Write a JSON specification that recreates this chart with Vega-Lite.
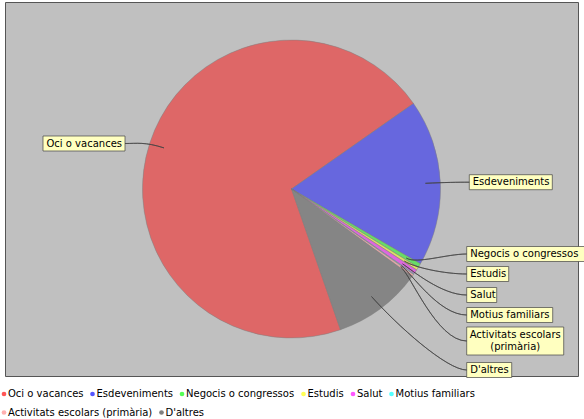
{
  "$schema": "https://vega.github.io/schema/vega-lite/v6.json",
  "width": 573,
  "height": 374,
  "autosize": {"type": "none"},
  "padding": {"left": 5, "top": 2, "right": 6, "bottom": 43},
  "background": "white",
  "config": {
    "view": {"fill": "#C0C0C0", "stroke": "#555555", "strokeWidth": 1},
    "legend": {
      "orient": "none", "direction": "horizontal", "title": null, "padding": 0,
      "symbolType": "circle", "symbolSize": 22, "symbolStrokeWidth": 0, "symbolOpacity": 1,
      "labelFont": "DejaVu Sans", "labelFontSize": 10, "labelColor": "#000000",
      "labelOffset": -1, "columnPadding": 3.5, "labelLimit": 400
    }
  },
  "data": {"values": [
    {"id": 1, "category": "Oci o vacances", "share": 70.6, "label": "Oci o vacances"},
    {"id": 2, "category": "Esdeveniments", "share": 18.1, "label": "Esdeveniments"},
    {"id": 3, "category": "Negocis o congressos", "share": 0.45, "label": "Negocis o congressos"},
    {"id": 4, "category": "Estudis", "share": 0.32, "label": "Estudis"},
    {"id": 5, "category": "Salut", "share": 0.5, "label": "Salut"},
    {"id": 6, "category": "Motius familiars", "share": 0.08, "label": "Motius familiars"},
    {"id": 7, "category": "Activitats escolars (primària)", "share": 0.28, "label": "Activitats escolars\n(primària)"},
    {"id": 8, "category": "D'altres", "share": 9.67, "label": "D'altres"}
  ]},
  "layer": [
    {
      "mark": {"type": "arc", "radius": 149, "fill": "#929292"},
      "encoding": {
        "theta": {"field": "share", "type": "quantitative", "stack": true, "scale": {"range": [2.8065, 9.0897]}},
        "order": {"field": "id", "type": "quantitative"}
      }
    },
    {
      "mark": {"type": "arc", "radius": 149, "opacity": 0.7, "stroke": "#7a7a7a", "strokeWidth": 0.5},
      "encoding": {
        "theta": {"field": "share", "type": "quantitative", "stack": true},
        "order": {"field": "id", "type": "quantitative"},
        "color": {
          "field": "category", "type": "nominal",
          "scale": {
            "domain": ["Oci o vacances", "Esdeveniments", "Negocis o congressos", "Estudis", "Salut", "Motius familiars", "Activitats escolars (primària)", "D'altres"],
            "range": ["#FF5555", "#5555FF", "#55FF55", "#FFFF55", "#FF55FF", "#55FFFF", "#FFAFAF", "#808080"]
          },
          "legend": {
            "legendX": -6, "legendY": 387,
            "values": ["Oci o vacances", "Esdeveniments", "Negocis o congressos", "Estudis", "Salut", "Motius familiars"]
          }
        }
      }
    },
    {
      "mark": {"type": "arc", "radius": 149, "opacity": 0},
      "encoding": {
        "theta": {"field": "share", "type": "quantitative", "stack": true},
        "order": {"field": "id", "type": "quantitative"},
        "fill": {
          "field": "label", "type": "nominal",
          "scale": {
            "domain": ["Oci o vacances", "Esdeveniments", "Negocis o congressos", "Estudis", "Salut", "Motius familiars", "Activitats escolars\n(primària)", "D'altres"],
            "range": ["#FF5555", "#5555FF", "#55FF55", "#FFFF55", "#FF55FF", "#55FFFF", "#FFAFAF", "#808080"]
          },
          "legend": {
            "legendX": -6, "legendY": 405.5,
            "values": ["Activitats escolars\n(primària)", "D'altres"],
            "labelExpr": "replace(datum.label, '\\n', ' ')"
          }
        }
      }
    },
    {
      "mark": {"type": "point", "filled": true, "fill": "#FFFFC0", "stroke": "#444444", "strokeWidth": 0.7, "opacity": 1, "size": 4},
      "encoding": {
        "x": {"field": "share", "type": "quantitative", "axis": null,
              "scale": {"domain": [0.08, 0.28, 0.32, 0.45, 0.5, 9.67, 18.1, 70.6], "range": [461.7, 461.7, 461.7, 461.7, 461.7, 461.7, 464.3, 120], "nice": false, "zero": false}},
        "y": {"field": "share", "type": "quantitative", "axis": null,
              "scale": {"domain": [0.08, 0.28, 0.32, 0.45, 0.5, 9.67, 18.1, 70.6], "range": [313, 339, 272, 252, 293, 368, 180.2, 141.5], "nice": false, "zero": false}},
        "shape": {"field": "id", "type": "nominal", "legend": null,
          "scale": {
            "domain": [1, 2, 3, 4, 5, 6, 7, 8],
            "range": [
              "M-82,-7.5H0V7.5H-82ZM0,0C12,0 20,-1.7 39,4.4C20,-1.7 12,0 0,0Z",
              "M0,-7.5H83V7.5H0ZM0,0C-12,0 -24,0.2 -43.9,1.1C-24,0.2 -12,0 0,0Z",
              "M0,-7.5H118V7.5H0ZM0,0C-20,0 -50,10.3 -60.4,4.1C-50,10.3 -20,0 0,0Z",
              "M0,-7.5H42V7.5H0ZM0,0C-22,0 -52.2,-6.4 -62.3,-12.9C-52.2,-6.4 -22,0 0,0Z",
              "M0,-7.5H30V7.5H0ZM0,0C-25,0 -54.1,-24.4 -64.1,-31.1C-54.1,-24.4 -25,0 0,0Z",
              "M0,-7.5H86V7.5H0ZM0,0C-28,0 -55.6,-42.3 -65.4,-49.2C-55.6,-42.3 -28,0 0,0Z",
              "M0,-14H97V14H0ZM0,0C-30,0 -56.3,-67.1 -66.1,-74.1C-56.3,-67.1 -30,0 0,0Z",
              "M0,-7.5H45V7.5H0ZM0,0C-20,0 -70,-45 -95.2,-73.5C-70,-45 -20,0 0,0Z"
            ]
          }
        }
      }
    },
    {
      "transform": [{"filter": "datum.share < 50 && datum.id != 7"}],
      "mark": {"type": "text", "align": "left", "baseline": "middle", "dx": 3.5, "font": "DejaVu Sans", "fontSize": 10, "color": "#000000"},
      "encoding": {
        "x": {"field": "share", "type": "quantitative", "axis": null},
        "y": {"field": "share", "type": "quantitative", "axis": null},
        "text": {"field": "label", "type": "nominal"}
      }
    },
    {
      "transform": [{"filter": "datum.id == 7"}],
      "mark": {"type": "text", "align": "center", "baseline": "middle", "dx": 48.5, "dy": -6, "font": "DejaVu Sans", "fontSize": 10, "color": "#000000", "lineBreak": "\n", "lineHeight": 12},
      "encoding": {
        "x": {"field": "share", "type": "quantitative", "axis": null},
        "y": {"field": "share", "type": "quantitative", "axis": null},
        "text": {"field": "label", "type": "nominal"}
      }
    },
    {
      "transform": [{"filter": "datum.share > 50"}],
      "mark": {"type": "text", "align": "right", "baseline": "middle", "dx": -3, "font": "DejaVu Sans", "fontSize": 10, "color": "#000000"},
      "encoding": {
        "x": {"field": "share", "type": "quantitative", "axis": null},
        "y": {"field": "share", "type": "quantitative", "axis": null},
        "text": {"field": "label", "type": "nominal"}
      }
    }
  ]
}
